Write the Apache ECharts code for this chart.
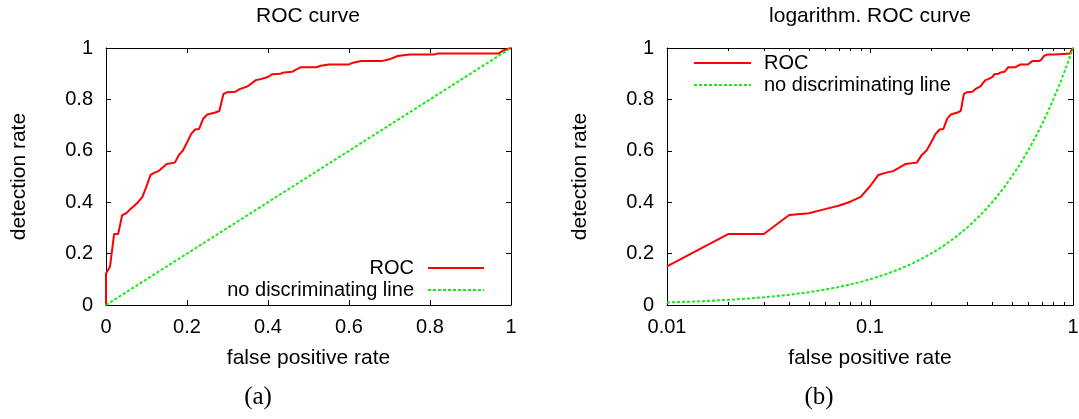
<!DOCTYPE html>
<html>
<head>
<meta charset="utf-8">
<script src="https://cdn.jsdelivr.net/npm/echarts@6/dist/echarts.min.js"></script>
<style>
  html, body { margin: 0; padding: 0; background: #fff; }
  #chart { width: 1079px; height: 419px; }
</style>
</head>
<body>
<div id="chart"></div>
<script>
// ROC curve (false positive rate / detection rate)
const fpr = [0, 0, 0.01, 0.02, 0.03, 0.04, 0.05, 0.06, 0.07, 0.08, 0.09, 0.10, 0.11, 0.12, 0.13,
    0.15, 0.17, 0.18, 0.19, 0.20, 0.21, 0.22, 0.23, 0.24, 0.25, 0.27, 0.28, 0.29, 0.30, 0.32,
    0.33, 0.35, 0.37, 0.38, 0.40, 0.41, 0.43, 0.44, 0.46, 0.48, 0.52, 0.53, 0.55, 0.60, 0.61,
    0.63, 0.68, 0.70, 0.72, 0.75, 0.81, 0.82, 0.97, 0.98, 1.0];
const tpr = [0, 0.123, 0.15, 0.276, 0.276, 0.350, 0.357, 0.373, 0.386, 0.402, 0.421, 0.462, 0.506, 0.515, 0.521,
    0.549, 0.554, 0.584, 0.601, 0.632, 0.665, 0.683, 0.685, 0.725, 0.741, 0.749, 0.755, 0.821, 0.828, 0.830,
    0.840, 0.851, 0.875, 0.878, 0.887, 0.898, 0.900, 0.905, 0.908, 0.925, 0.925, 0.931, 0.936, 0.936, 0.943,
    0.949, 0.949, 0.956, 0.969, 0.975, 0.975, 0.979, 0.979, 0.990, 1.0];

// the "no discriminating" diagonal (detection rate == false positive rate), sampled
const diagonal = [0, 0.01, 0.0125, 0.015, 0.0175, 0.02, 0.025, 0.03, 0.035, 0.04, 0.05, 0.06, 0.07, 0.08,
    0.09, 0.1, 0.12, 0.14, 0.16, 0.18, 0.2, 0.23, 0.26, 0.3, 0.34, 0.38, 0.42, 0.46, 0.5, 0.55,
    0.6, 0.65, 0.7, 0.75, 0.8, 0.85, 0.9, 0.95, 1];

// minor ticks of the log axis
const logMinorTicks = [0.02, 0.03, 0.04, 0.05, 0.06, 0.07, 0.08, 0.09,
    0.2, 0.3, 0.4, 0.5, 0.6, 0.7, 0.8, 0.9];

const names = ['ROC', 'no discriminating line'];
const titles = ['ROC curve', 'logarithm. ROC curve'];
const captions = ['(a)', '(b)'];

const FONT = 'Liberation Sans';
const RED = '#ff0000';
const GREEN = '#11ee11';

const rocPoints = fpr.map((x, i) => [x, tpr[i]]);
const diagPoints = diagonal.map(v => [v, v]);

const frame = { show: true, onZero: false, lineStyle: { color: '#000', width: 1 } };
const tick = len => ({ show: true, inside: true, length: len, lineStyle: { color: '#000', width: 1 } });
const label = margin => ({ color: '#000', fontSize: 20, fontFamily: FONT, margin });
const axisName = { color: '#000', fontSize: 21, fontFamily: FONT };

const linAxis = (grid, pos, withLabels) => ({
    type: 'value', gridIndex: grid, position: pos, min: 0, max: 1, interval: 0.2,
    axisLine: frame, axisTick: tick(5), splitLine: { show: false },
    axisLabel: withLabels ? label(13) : { show: false }
});

const chart = echarts.init(document.getElementById('chart'));

const option = {
    animation: false,
    backgroundColor: '#fff',
    title: [
        { text: titles[0], left: 308, top: 6, textAlign: 'center', padding: 0,
          textStyle: { fontSize: 21, fontWeight: 'normal', fontFamily: FONT, color: '#000' } },
        { text: titles[1], left: 870, top: 6, textAlign: 'center', padding: 0,
          textStyle: { fontSize: 21, fontWeight: 'normal', fontFamily: FONT, color: '#000' } },
        { text: captions[0], left: 258, top: 385, textAlign: 'center', padding: 0,
          textStyle: { fontSize: 25, fontWeight: 'normal', fontFamily: 'Liberation Serif', color: '#000' } },
        { text: captions[1], left: 819, top: 385, textAlign: 'center', padding: 0,
          textStyle: { fontSize: 25, fontWeight: 'normal', fontFamily: 'Liberation Serif', color: '#000' } }
    ],
    legend: [
        { data: names, orient: 'vertical', align: 'right', right: 594, top: 257, padding: 0,
          itemWidth: 56, itemHeight: 10, itemGap: 0, selectedMode: false,
          itemStyle: { opacity: 0 },
          textStyle: { fontSize: 20, fontFamily: FONT, color: '#000', lineHeight: 22, padding: [0, 9, 0, 0] } },
        { data: names, orient: 'vertical', align: 'left', left: 693, top: 52, padding: 0,
          itemWidth: 57, itemHeight: 10, itemGap: 0, selectedMode: false,
          itemStyle: { opacity: 0 },
          textStyle: { fontSize: 20, fontFamily: FONT, color: '#000', lineHeight: 22, padding: [0, 0, 0, 8] } }
    ],
    grid: [
        { left: 106, top: 48, width: 405, height: 257, outerBoundsMode: 'none' },
        { left: 667, top: 48, width: 406, height: 257, outerBoundsMode: 'none' }
    ],
    xAxis: [
        Object.assign(linAxis(0, 'bottom', true), {
            name: 'false positive rate', nameLocation: 'middle', nameGap: 43, nameTextStyle: axisName,
            axisLabel: label(12)
        }),
        linAxis(0, 'top', false),
        {
            type: 'log', logBase: 10, gridIndex: 1, position: 'bottom', min: 0.01, max: 1,
            axisLine: frame, axisTick: tick(5), splitLine: { show: false }, axisLabel: label(12),
            name: 'false positive rate', nameLocation: 'middle', nameGap: 43, nameTextStyle: axisName
        },
        {
            type: 'log', logBase: 10, gridIndex: 1, position: 'top', min: 0.01, max: 1,
            axisLine: frame, axisTick: tick(5), splitLine: { show: false }, axisLabel: { show: false }
        }
    ],
    yAxis: [
        Object.assign(linAxis(0, 'left', true), {
            name: 'detection rate', nameLocation: 'middle', nameGap: 76, nameTextStyle: axisName
        }),
        linAxis(0, 'right', false),
        Object.assign(linAxis(1, 'left', true), {
            name: 'detection rate', nameLocation: 'middle', nameGap: 76, nameTextStyle: axisName
        }),
        linAxis(1, 'right', false)
    ],
    series: [
        {
            name: names[0], type: 'line', xAxisIndex: 0, yAxisIndex: 0, data: rocPoints,
            symbol: 'none', lineStyle: { color: RED, width: 2 }, itemStyle: { color: RED }
        },
        {
            name: names[1], type: 'line', xAxisIndex: 0, yAxisIndex: 0, data: diagPoints,
            symbol: 'none', lineStyle: { color: GREEN, width: 2, type: [3, 2] }, itemStyle: { color: GREEN }
        },
        {
            name: names[0], type: 'line', xAxisIndex: 2, yAxisIndex: 2,
            data: rocPoints.filter(p => p[0] > 0),
            symbol: 'none', lineStyle: { color: RED, width: 2 }, itemStyle: { color: RED }
        },
        {
            name: names[1], type: 'line', xAxisIndex: 2, yAxisIndex: 2,
            data: diagPoints.filter(p => p[0] > 0),
            symbol: 'none', lineStyle: { color: GREEN, width: 2, type: [3, 2] }, itemStyle: { color: GREEN }
        },
        {
            // minor ticks of the log axis, top and bottom, placed through the axis scale
            type: 'custom', xAxisIndex: 2, yAxisIndex: 2, silent: true, clip: false,
            data: logMinorTicks.map(v => [v, 0]),
            encode: { x: 0, y: 1 },
            renderItem: (params, api) => {
                const x = api.value(0);
                const bottom = api.coord([x, 0]);
                const top = api.coord([x, 1]);
                const px = Math.round(bottom[0]) + 0.5;
                return {
                    type: 'group',
                    children: [
                        { type: 'line', shape: { x1: px, y1: bottom[1], x2: px, y2: bottom[1] - 3 },
                          style: { stroke: '#000', lineWidth: 1 } },
                        { type: 'line', shape: { x1: px, y1: top[1], x2: px, y2: top[1] + 3 },
                          style: { stroke: '#000', lineWidth: 1 } }
                    ]
                };
            }
        }
    ]
};

chart.setOption(option);
</script>
</body>
</html>
